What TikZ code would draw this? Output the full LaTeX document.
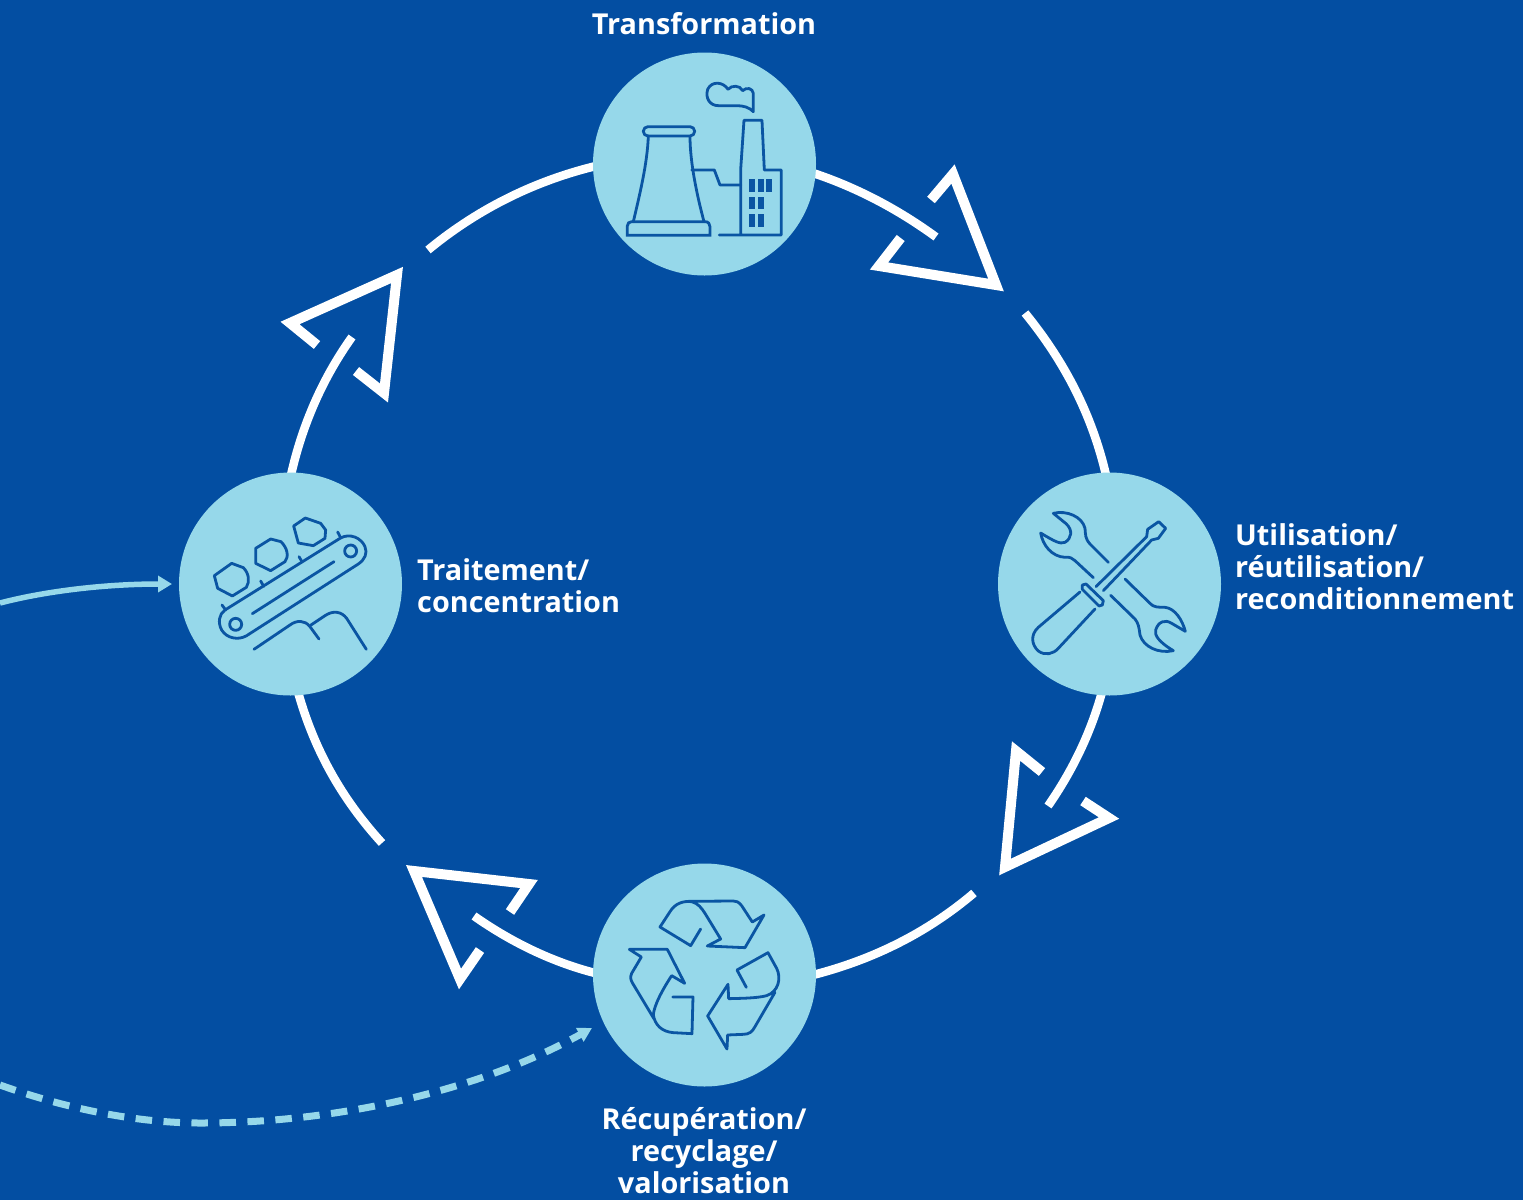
\documentclass[tikz,border=0pt]{standalone}
\usepackage{fontspec}
\usetikzlibrary{arrows.meta}
\setmainfont{Open Sans}
\definecolor{bgblue}{HTML}{034EA2}
\definecolor{pale}{HTML}{96D8EA}
\definecolor{iconblue}{HTML}{0A55A3}
\tikzset{x=1pt,y=-1pt,
  ring/.style={draw=white,line width=8.5pt,line cap=butt},
  head/.style={draw=white,line width=10pt,miter limit=10,line join=miter},
  disc/.style={circle,fill=pale,draw=none,minimum size=223pt,inner sep=0pt},
  lbl/.style={text=white,font=\fontsize{28.8}{32}\selectfont\bfseries,inner sep=0pt},
  ic/.style={draw=iconblue,line width=2.8pt,line cap=round,line join=round},
  feed/.style={draw=pale,line width=5.5pt}}
\begin{document}
\begin{tikzpicture}
\useasboundingbox (0,0) rectangle (1523,1200);
\fill[bgblue] (0,0) rectangle (1523,1200);
% ring arcs
\draw[ring] (813,173) .. controls (858,188) and (899,210) .. (936,237);
\draw[ring] (1025,313) .. controls (1065,362) and (1092,415) .. (1106,475);
\draw[ring] (1102,692) .. controls (1091,732) and (1073,770) .. (1048,806);
\draw[ring] (974,893) .. controls (928,932) and (875,959) .. (813,975);
\draw[ring] (595,973) .. controls (552,962) and (511,942) .. (474,916);
\draw[ring] (382,843) .. controls (341,798) and (314,749) .. (298,692);
\draw[ring] (291,475) .. controls (302,426) and (322,379) .. (352,337);
\draw[ring] (428,250) .. controls (474,212) and (530,182) .. (596,166);
% arrow heads
\draw[head] (931,200) -- (953,174) -- (996,285) -- (879,266) -- (900.7,238);
\draw[head] (1083,801) -- (1109,818) -- (1005,867) -- (1016,751) -- (1042,772);
\draw[head] (510,912) -- (529,884) -- (414,871) -- (460,979) -- (480,950);
\draw[head] (317,345) -- (290,323) -- (397,275) -- (384,393) -- (356,371);
% discs
\node[disc] (top) at (704.5,164) {};
\node[disc] (left) at (290.5,584) {};
\node[disc] (right) at (1109.5,584) {};
\node[disc] (bottom) at (704.5,975) {};
% feed arrows
\coordinate (feedA) at (0,603);
\coordinate (feedB) at (0,1085);
\coordinate (feedC) at (592,1028);
\draw[feed,-{Triangle[length=14pt,width=16pt]}] (feedA) .. controls (50,590) and (110,584) .. (172,584);
\draw[feed,line width=7pt,dash pattern=on 16.5pt off 11.5pt,-{Triangle[length=14pt,width=15pt]}] (feedB) .. controls (70,1110) and (140,1123) .. (200,1123) .. controls (340,1123) and (480,1090) .. (feedC);
% labels
\node[lbl,anchor=center] (tTop) at (704,24) {Transformation};
\node[lbl,anchor=north west,align=left] (tLeft) at (417,558) {Traitement/\\concentration};
\node[lbl,anchor=north west,align=left] (tRight) at (1235,523) {Utilisation/\\réutilisation/\\reconditionnement};
\node[lbl,anchor=north,align=center] (tBot) at (704,1107) {Récupération/\\recyclage/\\valorisation};
% factory icon
\begin{scope}[shift={(590,50)},x=0.3333pt,y=-0.3333pt]
\draw[ic] (175,258) .. controls (172,340) and (150,430) .. (130,515);
\draw[ic] (300,258) .. controls (300,340) and (322,440) .. (342,515);
\draw[ic,rounded corners=4.6pt] (160,230) rectangle (314,258);
\draw[ic,line join=miter] (112,556) -- (112,528) .. controls (112,520) and (118,515) .. (125,515) -- (345,515) .. controls (355,515) and (360,522) .. (360,530) -- (360,556) -- cycle;
\draw[ic] (305,360) -- (373,360) -- (390,405) -- (452,405);
\draw[ic] (388,555) -- (574,555) -- (574,360) -- (523,360) -- (516,211) -- (462,211) -- (452,360) -- (452,555);
\draw[ic] (490,185) -- (490,130) .. controls (488,115) and (470,110) .. (458,122) .. controls (450,105) and (425,105) .. (414,118) .. controls (400,95) and (365,92) .. (353,118) .. controls (345,145) and (360,167) .. (385,167) -- (440,167) .. controls (460,167) and (478,172) .. (490,185) -- cycle;
\foreach \xx/\yy in {477/388,504/388,529/388,477/440,504/440,477/492,504/492}{
  \fill[iconblue] (\xx,\yy) rectangle ++(18,38);
}
\end{scope}
% conveyor icon
\begin{scope}[shift={(175,470)},x=0.3333pt,y=-0.3333pt]
\draw[ic] (150,420) -- (495,205) .. controls (525,187) and (560,205) .. (570,230) .. controls (578,250) and (570,268) .. (550,282) -- (215,497) .. controls (190,512) and (155,505) .. (140,480) .. controls (128,458) and (132,432) .. (150,420) -- cycle;
\draw[ic] (182,463) circle (18);
\draw[ic] (527,243) circle (18);
\draw[ic] (232,431) -- (477,275);
\draw[ic] (237,538) -- (345,465) .. controls (365,450) and (390,450) .. (405,470) -- (432,507);
\draw[ic] (408,465) -- (450,437) .. controls (475,420) and (500,425) .. (515,445) -- (574,538);
\draw[ic] (141,405) -- (152,420);
\draw[ic] (257,333) -- (266,349);
\draw[ic] (372,260) -- (381,275);
\draw[ic] (488,186) -- (497,203);
\draw[ic] (118,317) -- (170,280) -- (205,293) .. controls (222,310) and (225,335) .. (214,352) -- (172,378) -- (128,355) -- cycle;
\draw[ic] (242,235) -- (287,207) -- (318,215) .. controls (338,235) and (342,260) .. (330,275) -- (287,302) -- (242,280) -- cycle;
\draw[ic] (356,168) -- (391,144) -- (437,160) -- (452,180) -- (450,205) -- (415,227) -- (370,219) -- cycle;
\end{scope}
% tools icon
\begin{scope}[shift={(995,470)},x=0.3333pt,y=-0.3333pt]
\draw[ic] (340,277) -- (285,222) .. controls (270,205) and (272,195) .. (270,175) .. controls (262,140) and (215,120) .. (175,130) -- (212,160) .. controls (235,180) and (230,205) .. (210,217) .. controls (195,223) and (180,215) .. (137,189) .. controls (143,225) and (170,260) .. (210,262) .. controls (225,260) and (232,265) .. (240,272) -- (295,323);
\draw[ic] (390,327) -- (465,400) .. controls (475,412) and (490,412) .. (510,412) .. controls (540,415) and (562,450) .. (571,484) -- (530,460) .. controls (510,447) and (490,455) .. (482,480) .. controls (478,495) and (490,515) .. (535,542) .. controls (490,552) and (445,530) .. (435,495) .. controls (432,470) and (430,460) .. (420,447) -- (347,376);
\draw[ic] (303,350) -- (455,200) -- (458,178) -- (491,155) -- (512,175) -- (490,205) -- (470,210) -- (325,362);
\draw[ic] (262,345) -- (273,342) -- (325,392) -- (322,405) -- (312,408) -- (262,358) -- cycle;
\draw[ic] (255,366) -- (130,472) .. controls (105,495) and (110,525) .. (130,543) .. controls (150,558) and (175,552) .. (190,535) -- (300,417);
\end{scope}
% recycle icon
\begin{scope}[shift={(590,860)},x=0.3333pt,y=-0.3333pt]
\draw[ic] (332,207) -- (302,257) -- (210,201) -- (240,155) .. controls (255,130) and (280,122) .. (305,125) .. controls (325,130) and (335,145) .. (345,160) -- (392,237) -- (352,258) -- (465,263) -- (522,165) -- (487,186) -- (455,137) .. controls (445,125) and (440,123) .. (430,123) -- (295,124);
\draw[ic] (248,411) -- (309,411) -- (306,521) -- (250,518) .. controls (215,515) and (195,495) .. (190,465) .. controls (192,435) and (220,385) .. (245,347) -- (284,370) -- (232,268) -- (118,268) -- (154,291) -- (125,340) .. controls (120,352) and (122,360) .. (128,370) -- (193,478);
\draw[ic] (469,382) -- (441,330) -- (534,278) -- (560,325) .. controls (575,355) and (565,395) .. (530,407) .. controls (500,415) and (450,415) .. (416,416) -- (414,373) -- (353,468) -- (411,567) -- (413,525) -- (460,523) .. controls (478,523) and (487,515) .. (495,500) -- (555,397);
\end{scope}
\end{tikzpicture}
\end{document}
